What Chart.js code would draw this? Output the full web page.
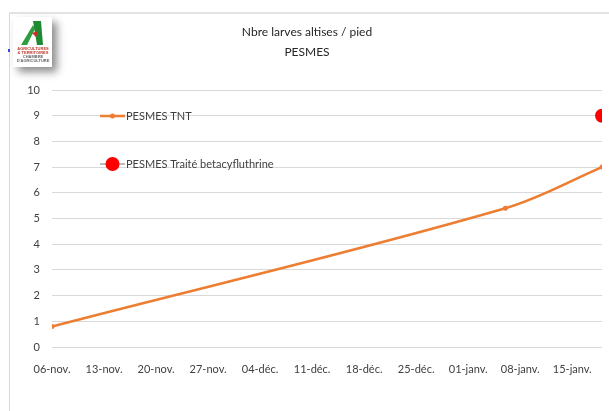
<!DOCTYPE html>
<html>
<head>
<meta charset="utf-8">
<script src="https://cdn.jsdelivr.net/npm/chart.js@4"></script>
<style>
  html, body { margin: 0; padding: 0; background: #fff; }
  body { width: 609px; height: 411px; position: relative; overflow: hidden; font-family: Lato, "Open Sans", sans-serif; }
  #frame { position: absolute; left: 9px; top: 12px; width: 600px; height: 399px; border-left: 1px solid #d9d9d9; border-top: 2px solid #e3e3e3; }
  #wrap { position: absolute; left: 11px; top: 14px; width: 598px; height: 397px; }
  #logo { position: absolute; left: 13px; top: 17px; width: 39px; height: 50px; background: #fff; box-shadow: 5px 5px 8px rgba(0,0,0,0.45); z-index: 2; }
  #logo svg { position: absolute; left: 6px; top: 2px; }
  #logo .t { position: absolute; left: 1px; top: 30px; width: 38px; font-size: 4px; line-height: 4px; color: #c0392b; font-family: "Liberation Sans", sans-serif; text-align: center; font-weight: bold; }
  #blue { position: absolute; left: 8px; top: 49px; width: 2px; height: 3px; background: #2b4fd8; }
</style>
</head>
<body>
<div id="frame"></div>
<div id="blue"></div>
<div id="logo">
  <svg width="26" height="28" viewBox="0 0 26 28">
    <polygon points="2,26 14,6 16,10 8,26" fill="#2e9e3e"/>
    <polygon points="14,2 22,2 24,26 18,26" fill="#1f8a34"/>
    <polygon points="13,14 19,12 17,18" fill="#d62828"/>
  </svg>
  <div class="t">AGRICULTURES<br>&amp; TERRITOIRES<br><span style="color:#666">CHAMBRE D'AGRICULTURE</span></div>
</div>
<div id="wrap"><canvas id="chart" width="598" height="397"></canvas></div>
<script>
// dates en jours depuis le 06-nov.
const tickLabels = ['06-nov.', '13-nov.', '20-nov.', '27-nov.', '04-déc.', '11-déc.', '18-déc.', '25-déc.', '01-janv.', '08-janv.', '15-janv.'];
const tntDays = [0, 61, 74];
const tntValues = [0.8, 5.4, 7.0];
const traiteDays = [74];
const traiteValues = [9];
const yTicks = [0, 1, 2, 3, 4, 5, 6, 7, 8, 9, 10];

const orange = '#ED7D31';
const red = '#FF0000';

// legende dessinee dans la zone du graphique
const insideLegend = {
  id: 'insideLegend',
  afterDraw(chart) {
    const ctx = chart.ctx;
    const a = chart.chartArea;
    const x0 = a.left + 48;
    const rows = [a.top + 26, a.top + 74];
    ctx.save();
    ctx.font = '11px Lato, "Open Sans", sans-serif';
    ctx.textBaseline = 'middle';
    chart.data.datasets.forEach(function (ds, i) {
      const y = rows[i];
      ctx.strokeStyle = i === 0 ? orange : '#a6a6a6';
      ctx.lineWidth = i === 0 ? 2.5 : 1.5;
      ctx.beginPath(); ctx.moveTo(x0, y); ctx.lineTo(x0 + 25, y); ctx.stroke();
      ctx.fillStyle = ds.pointBackgroundColor;
      ctx.beginPath(); ctx.arc(x0 + 12.5, y, i === 0 ? 2.5 : 7, 0, Math.PI * 2); ctx.fill();
      ctx.fillStyle = '#404040';
      ctx.fillText(ds.label, x0 + 26, y);
    });
    ctx.restore();
  }
};

const ctx = document.getElementById('chart').getContext('2d');
const chart = new Chart(ctx, {
  type: 'line',
  data: {
    datasets: [{
      label: 'PESMES TNT',
      data: tntDays.map(function (d, i) { return { x: d, y: tntValues[i] }; }),
      borderColor: orange,
      backgroundColor: orange,
      pointBackgroundColor: orange,
      pointBorderWidth: 0,
      pointRadius: 2.5,
      borderWidth: 2.5,
      tension: 0.35
    }, {
      label: 'PESMES Traité betacyfluthrine',
      data: traiteDays.map(function (d, i) { return { x: d, y: traiteValues[i] }; }),
      borderColor: red,
      backgroundColor: red,
      pointBackgroundColor: red,
      pointBorderWidth: 0,
      pointRadius: 7,
      showLine: false
    }]
  },
  plugins: [insideLegend],
  options: {
    responsive: false,
    animation: false,
    layout: { padding: { left: 0, right: 6, top: 0, bottom: 0 } },
    plugins: {
      legend: { display: false },
      tooltip: { enabled: false },
      title: {
        display: true,
        text: ['Nbre larves altises / pied', 'PESMES'],
        color: '#262626',
        font: { family: 'Lato, "Open Sans", sans-serif', size: 12, weight: 'normal', lineHeight: 1.667 },
        padding: { top: 8, bottom: 28 }
      }
    },
    scales: {
      x: {
        type: 'linear',
        min: 0,
        max: 74,
        afterBuildTicks: function (axis) {
          axis.ticks = tickLabels.map(function (_, i) { return { value: i * 7 }; });
        },
        afterFit: function (axis) { axis.height = 64; },
        grid: { display: false },
        border: { display: false },
        ticks: {
          autoSkip: false,
          maxRotation: 0,
          padding: 8,
          color: '#404040',
          font: { family: 'Lato, "Open Sans", sans-serif', size: 11 },
          callback: function (v) { return tickLabels[Math.round(v / 7)]; }
        }
      },
      y: {
        min: 0,
        max: 10,
        afterBuildTicks: function (axis) {
          axis.ticks = yTicks.map(function (v) { return { value: v }; });
        },
        afterFit: function (axis) { axis.width = 41; },
        grid: { color: '#d9d9d9', lineWidth: 1, drawTicks: false },
        border: { display: false },
        ticks: {
          padding: 12,
          color: '#404040',
          font: { family: 'Lato, "Open Sans", sans-serif', size: 11 }
        }
      }
    }
  }
});
</script>
</body>
</html>
